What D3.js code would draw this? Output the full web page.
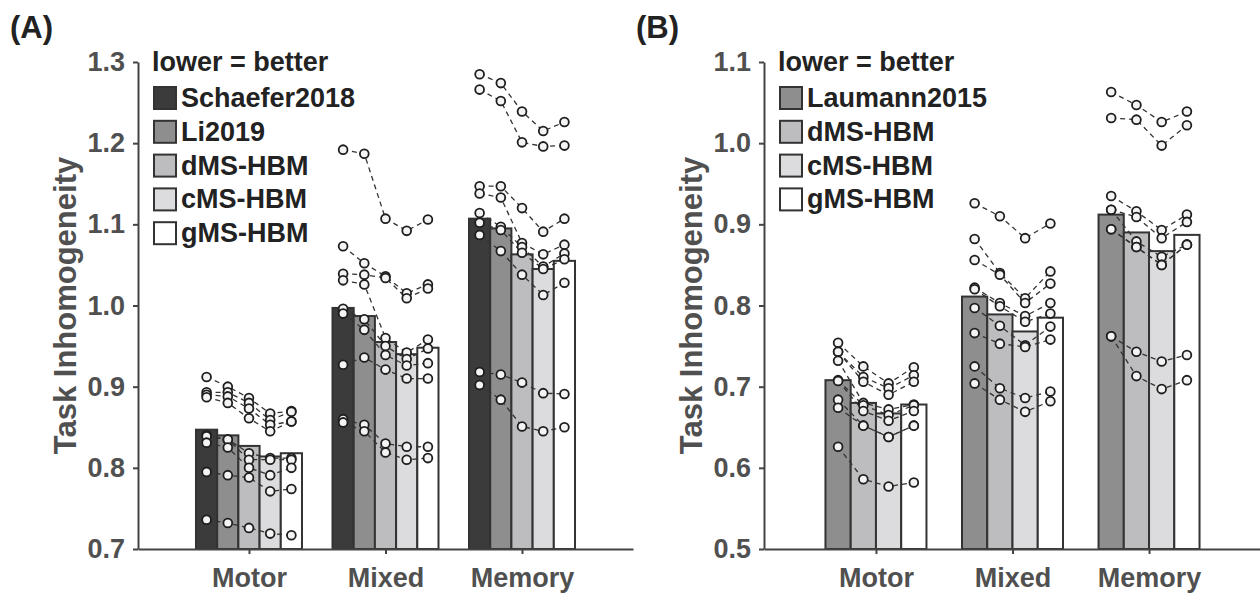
<!DOCTYPE html>
<html>
<head>
<meta charset="utf-8">
<script src="https://cdn.jsdelivr.net/npm/d3@7"></script>
<style>
  body { margin: 0; background: #fff; }
  svg text { font-family: "Liberation Sans", Arial, sans-serif; font-weight: bold; }
</style>
</head>
<body>
<div id="grafico"></div>
<script>
// categorias
const tasks = ["Motor", "Mixed", "Memory"]

// painel A
const methodsA = ["Schaefer2018", "Li2019", "dMS-HBM", "cMS-HBM", "gMS-HBM"]
const colorsA = ["#3b3b3b", "#8e8e8e", "#bdbdc0", "#dcdcde", "#ffffff"]
const yTicksA = [0.7, 0.8, 0.9, 1.0, 1.1, 1.2, 1.3]
// media por tarefa (uma por metodo)
const barsA = [
  [0.847, 0.840, 0.827, 0.814, 0.818],
  [0.997, 0.987, 0.955, 0.940, 0.948],
  [1.107, 1.095, 1.063, 1.045, 1.055]
]
// sujeitos: uma linha por metodo
const dotsAMotor = [
  [0.912, 0.893, 0.890, 0.887, 0.840, 0.839, 0.831, 0.795, 0.736],
  [0.900, 0.893, 0.888, 0.880, 0.835, 0.835, 0.825, 0.791, 0.732],
  [0.886, 0.880, 0.873, 0.861, 0.818, 0.810, 0.800, 0.788, 0.726],
  [0.867, 0.859, 0.853, 0.845, 0.812, 0.810, 0.791, 0.771, 0.719],
  [0.870, 0.869, 0.857, 0.857, 0.812, 0.810, 0.800, 0.774, 0.717]
]
const dotsAMixed = [
  [1.192, 1.073, 1.039, 1.031, 0.996, 0.990, 0.927, 0.860, 0.856],
  [1.187, 1.052, 1.038, 1.026, 0.983, 0.970, 0.936, 0.853, 0.845],
  [1.107, 1.036, 1.034, 0.960, 0.950, 0.939, 0.921, 0.830, 0.819],
  [1.092, 1.015, 1.009, 0.942, 0.934, 0.926, 0.910, 0.826, 0.810],
  [1.106, 1.026, 1.021, 0.958, 0.947, 0.929, 0.910, 0.826, 0.812]
]
const dotsAMemory = [
  [1.285, 1.266, 1.147, 1.138, 1.114, 1.102, 1.087, 0.918, 0.902],
  [1.274, 1.252, 1.147, 1.133, 1.097, 1.093, 1.067, 0.915, 0.884],
  [1.239, 1.201, 1.120, 1.077, 1.072, 1.065, 1.038, 0.905, 0.851],
  [1.215, 1.196, 1.091, 1.063, 1.048, 1.045, 1.013, 0.892, 0.845],
  [1.226, 1.197, 1.107, 1.075, 1.064, 1.057, 1.028, 0.891, 0.850]
]

// painel B
const methodsB = ["Laumann2015", "dMS-HBM", "cMS-HBM", "gMS-HBM"]
const colorsB = ["#8e8e8e", "#bdbdc0", "#dcdcde", "#ffffff"]
const yTicksB = [0.5, 0.6, 0.7, 0.8, 0.9, 1.0, 1.1]
const barsB = [
  [0.708, 0.680, 0.667, 0.678],
  [0.811, 0.789, 0.768, 0.785],
  [0.912, 0.890, 0.867, 0.887]
]
const dotsBMotor = [
  [0.754, 0.743, 0.743, 0.732, 0.708, 0.707, 0.684, 0.674, 0.626],
  [0.725, 0.712, 0.706, 0.680, 0.677, 0.670, 0.652, 0.652, 0.586],
  [0.704, 0.698, 0.690, 0.672, 0.665, 0.658, 0.638, 0.638, 0.577],
  [0.724, 0.714, 0.706, 0.678, 0.677, 0.670, 0.652, 0.652, 0.582]
]
const dotsBMixed = [
  [0.926, 0.882, 0.856, 0.822, 0.820, 0.797, 0.766, 0.725, 0.704],
  [0.910, 0.840, 0.838, 0.803, 0.799, 0.775, 0.753, 0.698, 0.684],
  [0.883, 0.809, 0.803, 0.787, 0.780, 0.751, 0.749, 0.686, 0.669],
  [0.901, 0.842, 0.827, 0.803, 0.790, 0.774, 0.758, 0.694, 0.682]
]
const dotsBMemory = [
  [1.063, 1.031, 0.935, 0.918, 0.918, 0.894, 0.894, 0.762, 0.762],
  [1.047, 1.029, 0.916, 0.909, 0.879, 0.872, 0.872, 0.743, 0.713],
  [1.026, 0.997, 0.893, 0.883, 0.860, 0.850, 0.850, 0.731, 0.697],
  [1.039, 1.022, 0.912, 0.903, 0.875, 0.875, 0.875, 0.739, 0.708]
]

const W = 1260, H = 595
const yTop = 62, yBase = 549

const svg = d3.select("#grafico")
  .append("svg")
    .attr("width", W)
    .attr("height", H)

function drawPanel(p) {
  const g = svg.append("g")

  const y = d3.scaleLinear().domain([p.ticks[0], p.ticks[p.ticks.length - 1]]).range([yBase, yTop])
  const x = d3.scalePoint().domain(tasks).range([p.left, p.right]).padding(p.pad)
  const xm = d3.scaleBand().domain(p.methods).range([-p.groupW / 2, p.groupW / 2])

  // barras, linhas e pontos de cada tarefa
  tasks.forEach((t, ti) => {
    const gg = g.append("g").attr("transform", `translate(${x(t)},0)`)

    gg.selectAll("rect.bar")
      .data(p.methods)
      .join("rect")
        .attr("class", "bar")
        .attr("x", m => xm(m))
        .attr("width", xm.bandwidth())
        .attr("y", (m, i) => y(p.bars[ti][i]))
        .attr("height", (m, i) => yBase - y(p.bars[ti][i]))
        .attr("fill", (m, i) => p.colors[i])
        .attr("stroke", "#333")
        .attr("stroke-width", 2)

    const vals = p.dots[ti]
    const subj = d3.range(vals[0].length).map(s => p.methods.map((m, i) => ({m, v: vals[i][s]})))

    gg.selectAll("path.subj")
      .data(subj)
      .join("path")
        .attr("class", "subj")
        .attr("d", d3.line().x(d => xm(d.m) + xm.bandwidth() / 2).y(d => y(d.v)))
        .attr("fill", "none")
        .attr("stroke", "#333")
        .attr("stroke-width", 1.3)
        .attr("stroke-dasharray", "5,4")

    gg.selectAll("circle")
      .data(subj.flat())
      .join("circle")
        .attr("cx", d => xm(d.m) + xm.bandwidth() / 2)
        .attr("cy", d => y(d.v))
        .attr("r", 4.4)
        .attr("fill", "#f4f4f4")
        .attr("stroke", "#1e1e1e")
        .attr("stroke-width", 1.8)
  })

  // eixo y
  const yAxis = g.append("g")
    .attr("transform", `translate(${p.left},0)`)
    .call(d3.axisLeft(y).tickValues(p.ticks).tickSize(5).tickSizeOuter(0).tickPadding(8).tickFormat(d3.format(".1f")))
  // eixo x
  const xAxis = g.append("g")
    .attr("transform", `translate(0,${yBase})`)
    .call(d3.axisBottom(x).tickSize(5).tickSizeOuter(0).tickPadding(14))

  ;[yAxis, xAxis].forEach(a => {
    a.select(".domain").attr("stroke", "#444").attr("stroke-width", 2)
    a.selectAll(".tick line").attr("stroke", "#444").attr("stroke-width", 2)
    a.selectAll(".tick text").attr("fill", "#505050").attr("font-size", "27px")
  })

  // texto do eixo y
  g.append("text")
    .attr("transform", `translate(${p.left - 62},${(yTop + yBase) / 2}) rotate(-90)`)
    .attr("text-anchor", "middle")
    .attr("font-size", "31px")
    .attr("fill", "#505050")
    .text("Task Inhomogeneity")

  // legenda
  g.append("text")
    .attr("x", p.left + 14)
    .attr("y", 71)
    .attr("font-size", "27px")
    .attr("fill", "#222")
    .text("lower = better")

  const leg = g.selectAll("g.leg")
    .data(p.methods)
    .join("g")
      .attr("class", "leg")
      .attr("transform", (m, i) => `translate(${p.left + 16},${87 + i * 33.8})`)
  leg.append("rect")
    .attr("width", 22).attr("height", 22)
    .attr("fill", (m, i) => p.colors[i])
    .attr("stroke", "#333").attr("stroke-width", 2)
  leg.append("text")
    .attr("x", 27).attr("y", 20)
    .attr("font-size", "27px")
    .attr("fill", "#222")
    .text(m => m)

  // letra do painel
  g.append("text")
    .attr("x", p.left - 128)
    .attr("y", 38)
    .attr("font-size", "31px")
    .attr("fill", "#222")
    .text(p.letter)
}

drawPanel({letter: "(A)", left: 138, right: 633, pad: 0.813, groupW: 106,
  methods: methodsA, colors: colorsA, ticks: yTicksA, bars: barsA,
  dots: [dotsAMotor, dotsAMixed, dotsAMemory]})

drawPanel({letter: "(B)", left: 764, right: 1261, pad: 0.82, groupW: 101,
  methods: methodsB, colors: colorsB, ticks: yTicksB, bars: barsB,
  dots: [dotsBMotor, dotsBMixed, dotsBMemory]})
</script>
</body>
</html>
